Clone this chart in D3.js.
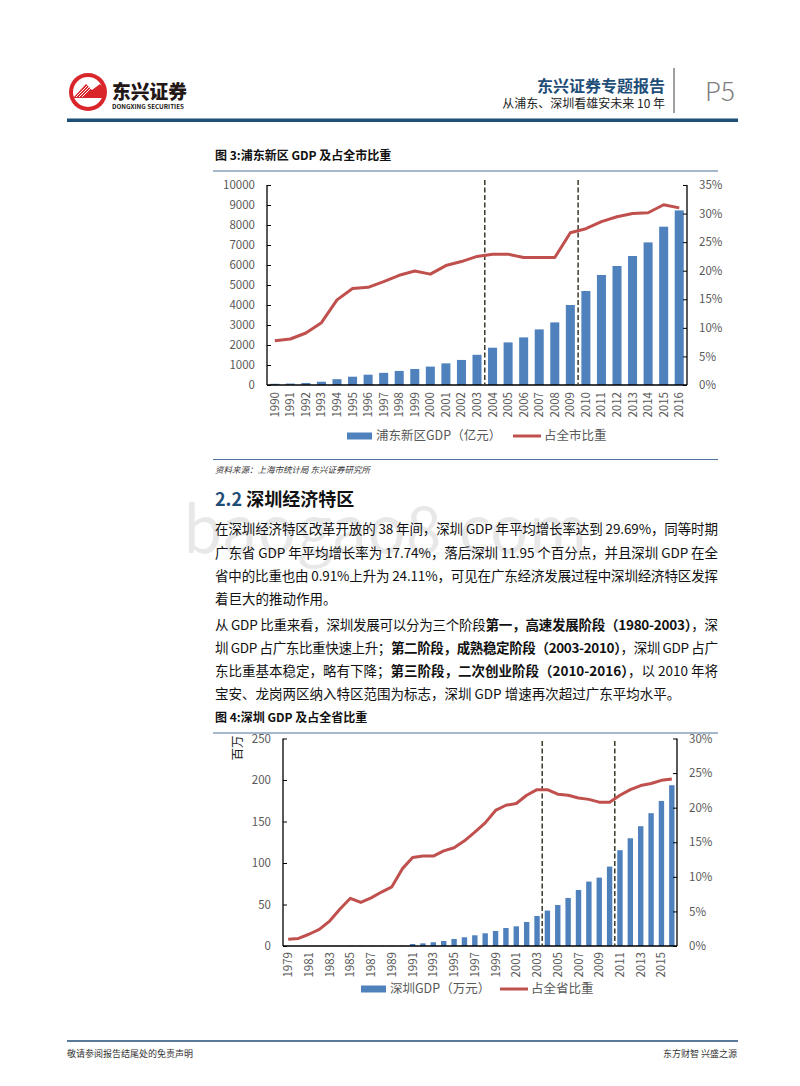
<!DOCTYPE html>
<html><head><meta charset="utf-8">
<script src="https://cdn.jsdelivr.net/npm/d3@7"></script>
<style>
body{margin:0;background:#fff;}
svg text{font-family:"Noto Sans CJK SC","Noto Sans",sans-serif;}
</style></head>
<body>
<svg id="page" width="800" height="1086"></svg>
<script>
// ---------- Data: Figure 3 (Pudong) ----------
const pdYears = ["1990","1991","1992","1993","1994","1995","1996","1997","1998","1999","2000","2001","2002","2003","2004","2005","2006","2007","2008","2009","2010","2011","2012","2013","2014","2015","2016"];
const pdGDP = [60,72,102,164,291,415,515,608,704,801,920,1082,1253,1510,1865,2130,2380,2780,3130,4000,4700,5500,5950,6450,7130,7915,8730];
const pdShare = [7.75,8.05,9.1,10.9,14.9,16.9,17.1,18.1,19.2,19.95,19.4,20.9,21.6,22.5,22.9,22.9,22.3,22.3,22.3,26.65,27.35,28.6,29.45,30.0,30.15,31.55,31.0];
const pdLeftTicks = [0,1000,2000,3000,4000,5000,6000,7000,8000,9000,10000];
const pdRightTicks = [0,5,10,15,20,25,30,35];
const pdBreaks = [["2003","2004"],["2009","2010"]];

// ---------- Data: Figure 4 (Shenzhen) ----------
const szYears = d3.range(1979,2017).map(String);
const szGDP = [0.02,0.03,0.05,0.08,0.13,0.2,0.25,0.28,0.3,0.32,0.35,0.4,2.4,3.2,4.5,6.0,8.5,10.5,12.9,15.3,18.1,21.7,23.7,28.9,36.2,42.7,49.4,57.9,67.5,77.6,82.4,95.7,115.4,129.8,144.3,160,174.8,193.7];
const szShare = [0.97,1.1,1.7,2.4,3.6,5.35,6.9,6.3,6.95,7.8,8.55,11.15,12.8,13.0,13.0,13.75,14.2,15.2,16.45,17.8,19.6,20.35,20.6,21.8,22.6,22.6,21.95,21.8,21.4,21.2,20.8,20.8,21.8,22.6,23.2,23.5,23.95,24.15];
const szLeftTicks = [0,50,100,150,200,250];
const szRightTicks = [0,5,10,15,20,25,30];
const szBreaks = [["2003","2004"],["2010","2011"]];

const svg = d3.select("#page");
const BLUE="#4f81bd", RED="#c0504d", GRAY="#595959", NAVY="#1f4e79";
const numFont = "Lato,'Noto Sans CJK SC',sans-serif";

// watermark (drawn first, behind everything)
svg.append("text").attr("x",183).attr("y",553).attr("font-size",64).attr("font-family","'Liberation Sans',sans-serif")
  .attr("fill","#000").attr("fill-opacity",0.09).text("baogao8.com");

// ---------- Header ----------
const logo = svg.append("g");
logo.append("circle").attr("cx",88).attr("cy",92).attr("r",19).attr("fill","#d9262b");
logo.append("circle").attr("cx",88).attr("cy",92).attr("r",15).attr("fill","#fff");
logo.append("path").attr("d","M73,98 L86,84 L92,90 L100,84 L104,88 L104,98 Z").attr("fill","#d9262b");
[0,1,2].forEach(i=>logo.append("line").attr("x1",76+i*3).attr("y1",97).attr("x2",87+i*3).attr("y2",86).attr("stroke","#fff").attr("stroke-width",1));
logo.append("text").attr("x",112).attr("y",99).attr("font-size",19).attr("font-weight",900).attr("fill","#231815").attr("textLength",75).attr("lengthAdjust","spacingAndGlyphs").text("东兴证券");
logo.append("text").attr("x",112).attr("y",109).attr("font-size",6.3).attr("font-weight",700).attr("fill","#231815").attr("font-family","'Liberation Sans',sans-serif").text("DONGXING SECURITIES");

svg.append("text").attr("x",665).attr("y",92).attr("text-anchor","end").attr("font-size",16).attr("font-weight",700).attr("fill",NAVY).text("东兴证券专题报告");
svg.append("text").attr("x",665).attr("y",108).attr("text-anchor","end").attr("font-size",12).attr("fill","#222").text("从浦东、深圳看雄安未来 10 年");
svg.append("line").attr("x1",674).attr("x2",674).attr("y1",68).attr("y2",113).attr("stroke","#808080").attr("stroke-width",1.5);
svg.append("text").attr("x",705).attr("y",101).attr("font-size",26).attr("font-weight",300).attr("fill","#7f7f7f").attr("font-family","'Open Sans',sans-serif").text("P5");
svg.append("rect").attr("x",67).attr("y",118.5).attr("width",671).attr("height",3.5).attr("fill",NAVY);

// ---------- Chart builder ----------
function chart(o){
  const g = svg.append("g");
  g.append("text").attr("x",215).attr("y",o.titleY).attr("font-size",12).attr("font-weight",700).attr("fill","#111").text(o.title);
  g.append("line").attr("x1",213).attr("x2",718).attr("y1",o.titleY+11).attr("y2",o.titleY+11).attr("stroke","#4f7298").attr("stroke-width",1.2);

  const x = d3.scaleBand().domain(o.years).range([o.x0,o.x1]).paddingInner(o.pad).paddingOuter(o.pad/2);
  const yL = d3.scaleLinear().domain([0,o.lMax]).range([o.y0,o.y1]);
  const yR = d3.scaleLinear().domain([0,o.rMax]).range([o.y0,o.y1]);

  g.append("g").selectAll("rect").data(o.gdp).join("rect")
    .attr("x",(d,i)=>x(o.years[i])).attr("width",x.bandwidth())
    .attr("y",d=>yL(d)).attr("height",d=>o.y0-yL(d)).attr("fill",BLUE);

  const aL = g.append("g").attr("transform",`translate(${o.x0},0)`)
    .call(d3.axisLeft(yL).tickValues(o.lTicks).tickSize(-4).tickPadding(12).tickFormat(d3.format("d")));
  const aR = g.append("g").attr("transform",`translate(${o.x1},0)`)
    .call(d3.axisRight(yR).tickValues(o.rTicks).tickSize(-4).tickPadding(12).tickFormat(d=>d+"%"));
  [aL,aR].forEach(a=>{
    a.select(".domain").attr("stroke","#000").attr("stroke-width",1.3).attr("d",`M0,${o.y1}V${o.y0}`);
    a.selectAll(".tick line").attr("stroke","#000");
    a.selectAll("text").attr("fill",GRAY).attr("font-size",11.5).attr("font-family",numFont);
  });
  const aX = g.append("g").attr("transform",`translate(0,${o.y0})`)
    .call(d3.axisBottom(x).tickValues(o.xTicks).tickSize(0).tickPadding(0));
  aX.select(".domain").attr("stroke","#000").attr("stroke-width",1.5).attr("d",`M${o.x0},0H${o.x1}`);
  aX.selectAll("text").attr("fill",GRAY).attr("font-size",11.5).attr("font-family",numFont)
    .attr("transform","rotate(-90)").attr("text-anchor","end").attr("dy","0.35em").attr("x",-o.xLabGap).attr("y",0);

  o.breaks.forEach(([a,b])=>{
    const xx = (x(a)+x(b)+x.bandwidth())/2;
    g.append("line").attr("x1",xx).attr("x2",xx).attr("y1",o.dashTop).attr("y2",o.y0)
      .attr("stroke","#3a3a2a").attr("stroke-width",1.5).attr("stroke-dasharray","5,2.5");
  });

  const line = d3.line().x((d,i)=>x(o.years[i])+x.bandwidth()/2).y(d=>yR(d));
  g.append("path").datum(o.share).attr("d",line).attr("fill","none").attr("stroke",RED).attr("stroke-width",3).attr("stroke-linejoin","round");

  const ly = o.legY;
  g.append("rect").attr("x",o.legX).attr("y",ly-3.5).attr("width",25).attr("height",7).attr("fill",BLUE);
  g.append("text").attr("x",o.legX+29).attr("y",ly).attr("dy","0.35em").attr("font-size",12.5).attr("fill",GRAY).text(o.leg1);
  g.append("line").attr("x1",o.legX2).attr("x2",o.legX2+28).attr("y1",ly).attr("y2",ly).attr("stroke",RED).attr("stroke-width",3);
  g.append("text").attr("x",o.legX2+31).attr("y",ly).attr("dy","0.35em").attr("font-size",12.5).attr("fill",GRAY).text(o.leg2);
  return g;
}

chart({title:"图 3:浦东新区 GDP 及占全市比重", titleY:160, years:pdYears, gdp:pdGDP, share:pdShare,
  x0:267, x1:687, y0:385, y1:185, lMax:10000, rMax:35, lTicks:pdLeftTicks, rTicks:pdRightTicks,
  xTicks:pdYears, pad:0.42, breaks:pdBreaks, dashTop:180, xLabGap:7,
  legY:436, legX:347, legX2:513, leg1:"浦东新区GDP（亿元）", leg2:"占全市比重"});

const c2 = chart({title:"图 4:深圳 GDP 及占全省比重", titleY:722, years:szYears, gdp:szGDP, share:szShare,
  x0:283, x1:677, y0:946, y1:738.5, lMax:250, rMax:30, lTicks:szLeftTicks, rTicks:szRightTicks,
  xTicks:szYears.filter((d,i)=>i%2===0), pad:0.48, breaks:szBreaks, dashTop:741, xLabGap:6,
  legY:989, legX:361, legX2:500, leg1:"深圳GDP（万元）", leg2:"占全省比重"});
c2.append("text").attr("transform","translate(242,748) rotate(-90)").attr("text-anchor","middle").attr("font-size",12.5).attr("fill","#222").text("百万");

// ---------- Source & section ----------
svg.append("line").attr("x1",213).attr("x2",718).attr("y1",459.5).attr("y2",459.5).attr("stroke","#4f7298").attr("stroke-width",1.2);
svg.append("text").attr("x",215).attr("y",473).attr("font-size",8.5).attr("font-style","italic").attr("fill","#333").text("资料来源：上海市统计局 东兴证券研究所");

const h = svg.append("text").attr("x",215).attr("y",506).attr("font-size",18).attr("font-weight",700);
h.append("tspan").attr("fill",NAVY).text("2.2 ");
h.append("tspan").attr("fill","#111").text("深圳经济特区");

const para = [
  [[["在深圳经济特区改革开放的 38 年间，深圳 GDP 年平均增长率达到 29.69%，同等时期",0]],true],
  [[["广东省 GDP 年平均增长率为 17.74%，落后深圳 11.95 个百分点，并且深圳 GDP 在全",0]],true],
  [[["省中的比重也由 0.91%上升为 24.11%，可见在广东经济发展过程中深圳经济特区发挥",0]],true],
  [[["着巨大的推动作用。",0]],false],
  [[["从 GDP 比重来看，深圳发展可以分为三个阶段",0],["第一，高速发展阶段（1980-2003）",1],["，深",0]],true],
  [[["圳 GDP 占广东比重快速上升；",0],["第二阶段，成熟稳定阶段（2003-2010）",1],["，深圳 GDP 占广",0]],true],
  [[["东比重基本稳定，略有下降；",0],["第三阶段，二次创业阶段（2010-2016）",1],["，以 2010 年将",0]],true],
  [[["宝安、龙岗两区纳入特区范围为标志，深圳 GDP 增速再次超过广东平均水平。",0]],false]
];
const lineYs = [534,558,581,604,630,653,676,699];
para.forEach((p,i)=>{
  const t = svg.append("text").attr("x",215).attr("y",lineYs[i]).attr("font-size",13.5).attr("fill","#111");
  if(p[1]) t.attr("textLength",503).attr("lengthAdjust","spacing");
  p[0].forEach(s=>t.append("tspan").attr("font-weight",s[1]?700:400).text(s[0]));
});

// ---------- Footer ----------
svg.append("rect").attr("x",67).attr("y",1040).attr("width",671).attr("height",2).attr("fill","#5a7a99");
svg.append("text").attr("x",67).attr("y",1057).attr("font-size",9).attr("fill","#333").text("敬请参阅报告结尾处的免责声明");
svg.append("text").attr("x",737).attr("y",1057).attr("text-anchor","end").attr("font-size",9).attr("fill","#333").text("东方财智 兴盛之源");
</script>
</body></html>
